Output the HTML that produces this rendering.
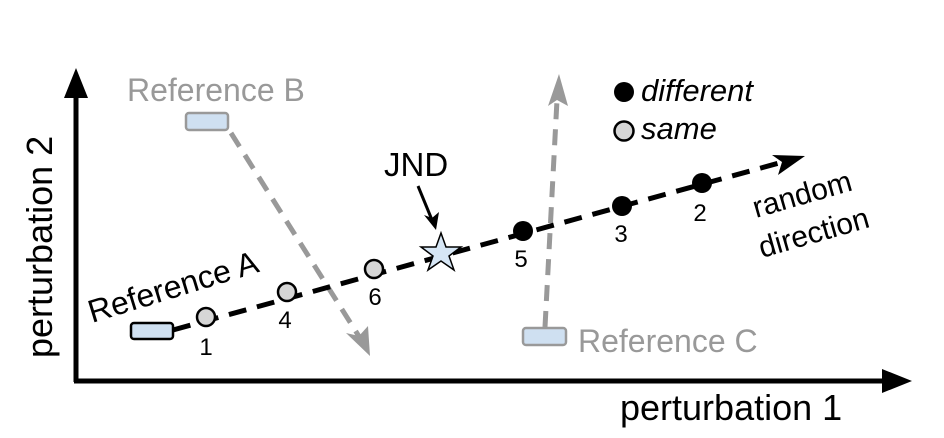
<!DOCTYPE html>
<html><head><style>body{margin:0;background:#fff}svg{display:block}</style></head><body>
<svg width="944" height="438" viewBox="0 0 944 438" xmlns="http://www.w3.org/2000/svg" font-family="Liberation Sans, Arial, sans-serif">
<!-- axes -->
<line x1="76" y1="382" x2="76" y2="95" stroke="#000" stroke-width="5"/>
<polygon points="76,68 64,98 88,98" fill="#000"/>
<line x1="74" y1="381" x2="885" y2="381" stroke="#000" stroke-width="5"/>
<polygon points="912,381 882,369 882,393" fill="#000"/>
<text x="620" y="420" font-size="36">perturbation 1</text>
<text transform="translate(52,358) rotate(-90)" font-size="36">perturbation 2</text>
<!-- ref B arrow -->
<line x1="231" y1="133" x2="360" y2="338" stroke="#999" stroke-width="5" stroke-dasharray="16,10"/>
<polygon points="370,356 346,333 359,336 368,326" fill="#999"/>
<!-- ref C arrow -->
<line x1="545" y1="327" x2="557" y2="100" stroke="#999" stroke-width="5" stroke-dasharray="16,10"/>
<polygon points="559,74 548,106 557,100 568,106" fill="#999"/>
<!-- main dashed line -->
<line x1="173" y1="330" x2="790" y2="160" stroke="#000" stroke-width="5" stroke-dasharray="18,11"/>
<polygon points="805,156 772,155 782,162 778,175" fill="#000"/>
<!-- rects -->
<rect x="131" y="323" width="42" height="16" rx="3" fill="#cfe0f1" stroke="#000" stroke-width="2.5"/>
<rect x="186" y="113" width="42" height="17" rx="3" fill="#cfe0f1" stroke="#999" stroke-width="2.5"/>
<rect x="523" y="328" width="43" height="17" rx="3" fill="#cfe0f1" stroke="#999" stroke-width="2.5"/>
<!-- dots -->
<g stroke="#000" stroke-width="2.5" fill="#d6d6d6">
<circle cx="206" cy="317" r="9"/><circle cx="287" cy="292" r="9"/><circle cx="374" cy="269" r="9"/>
</g>
<g fill="#000"><circle cx="523" cy="231" r="10"/><circle cx="622" cy="206" r="10"/><circle cx="702" cy="183" r="10"/></g>
<!-- star -->
<polygon points="441,233 446,247 461,247 449,256 454,270 441,261 428,270 433,256 421,247 436,247" fill="#d6e6f5" stroke="#000" stroke-width="1.5"/>
<!-- numbers -->
<g font-size="24" text-anchor="middle">
<text x="206" y="355">1</text><text x="285" y="328">4</text><text x="375" y="305">6</text>
<text x="521" y="267">5</text><text x="621" y="242">3</text><text x="700" y="221">2</text>
</g>
<!-- JND -->
<text x="384" y="176" font-size="33">JND</text>
<line x1="418" y1="186" x2="432" y2="220" stroke="#000" stroke-width="3"/>
<polygon points="436,230 424,215 432,218 439,212" fill="#000"/>
<!-- legend -->
<circle cx="624" cy="92" r="10" fill="#000"/>
<text x="641" y="101" font-size="31" font-style="italic">different</text>
<circle cx="624" cy="131" r="9.5" fill="#d6d6d6" stroke="#000" stroke-width="2.5"/>
<text x="641" y="139" font-size="31" font-style="italic">same</text>
<!-- labels -->
<text x="127" y="101" font-size="32" fill="#999">Reference B</text>
<text x="578" y="352" font-size="32" fill="#999">Reference C</text>
<text transform="translate(92,323) rotate(-17)" font-size="32">Reference A</text>
<text transform="translate(756,218) rotate(-16)" font-size="30">random</text>
<text transform="translate(762,258) rotate(-16)" font-size="30">direction</text>
</svg>
</body></html>
